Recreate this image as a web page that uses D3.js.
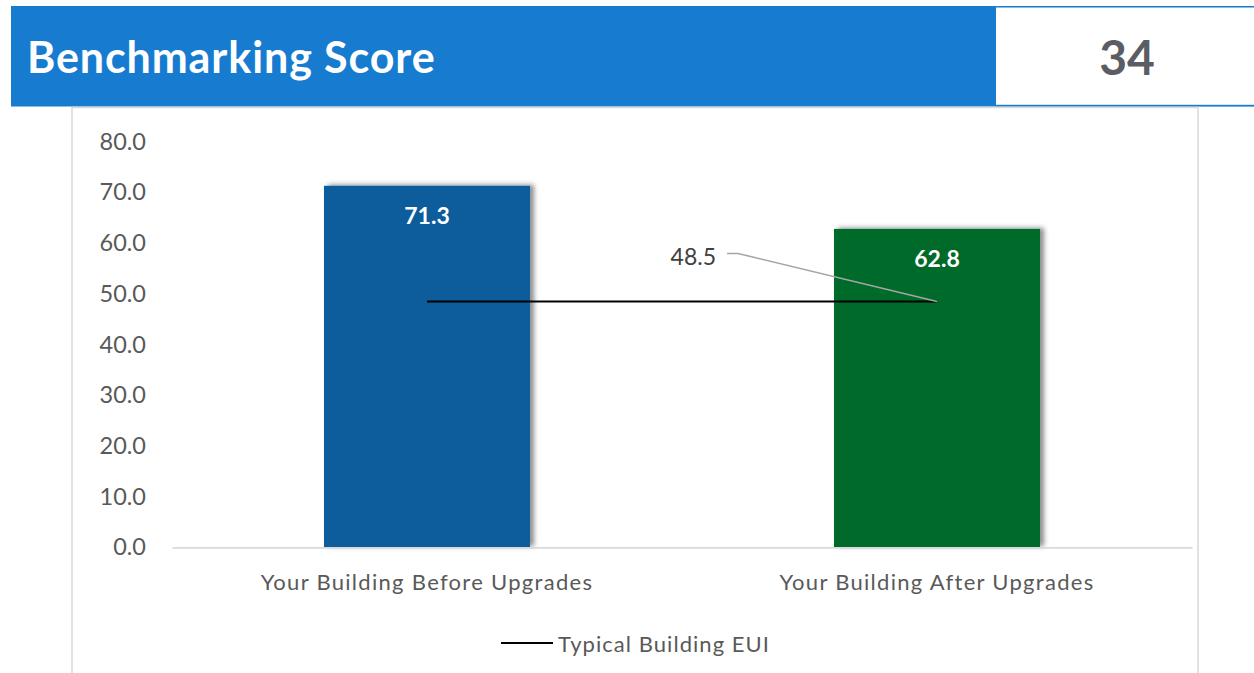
<!DOCTYPE html>
<html>
<head>
<meta charset="utf-8">
<script src="https://cdn.jsdelivr.net/npm/d3@7"></script>
<style>
  html, body { margin: 0; padding: 0; background: #ffffff; }
  svg { display: block; }
  text { font-family: Lato, "Open Sans", sans-serif; }
</style>
</head>
<body>
<script>
var title = "Benchmarking Score";
var score = "34";
var categories = ["Your Building Before Upgrades", "Your Building After Upgrades"];
var buildingEui = [71.3, 62.8];
var typicalEui = [48.5, 48.5];
var barColors = ["#0f5b9b", "#066b2c"];
var yTicks = [0, 10, 20, 30, 40, 50, 60, 70, 80];
var legendLabel = "Typical Building EUI";

var width = 1254,
    height = 673;

var svg = d3.select("body").append("svg")
    .attr("width", width)
    .attr("height", height);

// bar shadow
var defs = svg.append("defs");
defs.append("filter")
    .attr("id", "shadow")
    .attr("x", "-10%").attr("y", "-10%")
    .attr("width", "130%").attr("height", "120%")
  .append("feDropShadow")
    .attr("dx", 4)
    .attr("dy", -1)
    .attr("stdDeviation", 2.5)
    .attr("flood-color", "#000")
    .attr("flood-opacity", 0.45);

/* header */
svg.append("rect")
    .attr("x", 11).attr("y", 6)
    .attr("width", 985).attr("height", 100.5)
    .style("fill", "#177bcf");

svg.append("rect")
    .attr("x", 996).attr("y", 6)
    .attr("width", 258).attr("height", 1.5)
    .style("fill", "#177bcf");

svg.append("rect")
    .attr("x", 996).attr("y", 104.8)
    .attr("width", 258).attr("height", 1.8)
    .style("fill", "#177bcf");

svg.append("text")
    .attr("x", 27)
    .attr("y", 73)
    .style("font-size", "43px")
    .style("font-weight", "bold")
    .style("letter-spacing", "0.9px")
    .style("fill", "#ffffff")
    .text(title);

svg.append("text")
    .attr("x", 1127)
    .attr("y", 75)
    .attr("text-anchor", "middle")
    .style("font-size", "48px")
    .style("font-weight", "bold")
    .style("fill", "#5a5d63")
    .text(score);

/* chart frame */
svg.append("rect")
    .attr("x", 72).attr("y", 107.5)
    .attr("width", 1126).attr("height", 600)
    .style("fill", "none")
    .style("stroke", "#d9d9d9")
    .style("stroke-width", 1.5);

var plot = {left: 172, right: 1192, top: 141.7, bottom: 547.3};

var x = d3.scaleBand()
    .domain(categories)
    .range([plot.left, plot.right])
    .paddingInner(0.596)
    .paddingOuter(0.298);

var y = d3.scaleLinear()
    .domain([0, 80])
    .range([plot.bottom, plot.top]);

// y axis labels only
var yAxis = d3.axisLeft(y)
    .tickValues(yTicks)
    .tickFormat(d3.format(".1f"))
    .tickSize(0)
    .tickPadding(26);

var yg = svg.append("g")
    .attr("transform", "translate(" + plot.left + ",0)")
    .call(yAxis);
yg.select(".domain").remove();
yg.selectAll("text")
    .style("font-family", "Lato, 'Open Sans', sans-serif")
    .style("font-size", "23.5px")
    .style("fill", "#595959");

var bars = svg.append("g");

bars.selectAll("rect")
    .data(buildingEui)
  .enter().append("rect")
    .attr("x", function(d, i) { return x(categories[i]); })
    .attr("y", function(d) { return y(d); })
    .attr("width", x.bandwidth())
    .attr("height", function(d) { return y(0) - y(d); })
    .attr("filter", "url(#shadow)")
    .style("fill", function(d, i) { return barColors[i]; });

// baseline
var xAxis = d3.axisBottom(x)
    .tickSize(0)
    .tickPadding(27);

var xg = svg.append("g")
    .attr("transform", "translate(0," + plot.bottom + ")")
    .call(xAxis);
xg.select(".domain")
    .style("stroke", "#d9d9d9")
    .style("stroke-width", 1.8);
xg.selectAll("text")
    .style("font-family", "Lato, 'Open Sans', sans-serif")
    .style("font-size", "22px")
    .style("letter-spacing", "1.3px")
    .style("fill", "#595959");

bars.selectAll("text")
    .data(buildingEui)
  .enter().append("text")
    .attr("x", function(d, i) { return x(categories[i]) + x.bandwidth() / 2; })
    .attr("y", function(d) { return y(d) + 38; })
    .attr("text-anchor", "middle")
    .style("font-size", "23px")
    .style("font-weight", "bold")
    .style("fill", "#ffffff")
    .text(function(d) { return d3.format(".1f")(d); });

/* typical building line */
var line = d3.line()
    .x(function(d, i) { return x(categories[i]) + x.bandwidth() / 2; })
    .y(function(d) { return y(d); });

svg.append("path")
    .datum(typicalEui)
    .attr("d", line)
    .style("fill", "none")
    .style("stroke", "#000000")
    .style("stroke-width", 2);

// label for the last point, with leader line
var lx = x(categories[1]) + x.bandwidth() / 2,
    ly = y(typicalEui[1]);

svg.append("path")
    .attr("d", "M" + (lx - 210) + "," + (ly - 48) + "h11L" + lx + "," + ly)
    .style("fill", "none")
    .style("stroke", "#a6a6a6")
    .style("stroke-width", 1.5);

svg.append("text")
    .attr("x", lx - 221)
    .attr("y", ly - 36.5)
    .attr("text-anchor", "end")
    .style("font-size", "23px")
    .style("fill", "#404040")
    .text(d3.format(".1f")(typicalEui[1]));

/* legend */
var legend = svg.append("g")
    .attr("transform", "translate(501,643)");

legend.append("line")
    .attr("x1", 0).attr("x2", 52)
    .style("stroke", "#000000")
    .style("stroke-width", 2);

legend.append("text")
    .attr("x", 57)
    .attr("y", 9)
    .style("font-size", "22px")
    .style("letter-spacing", "1.05px")
    .style("fill", "#595959")
    .text(legendLabel);
</script>
</body>
</html>
